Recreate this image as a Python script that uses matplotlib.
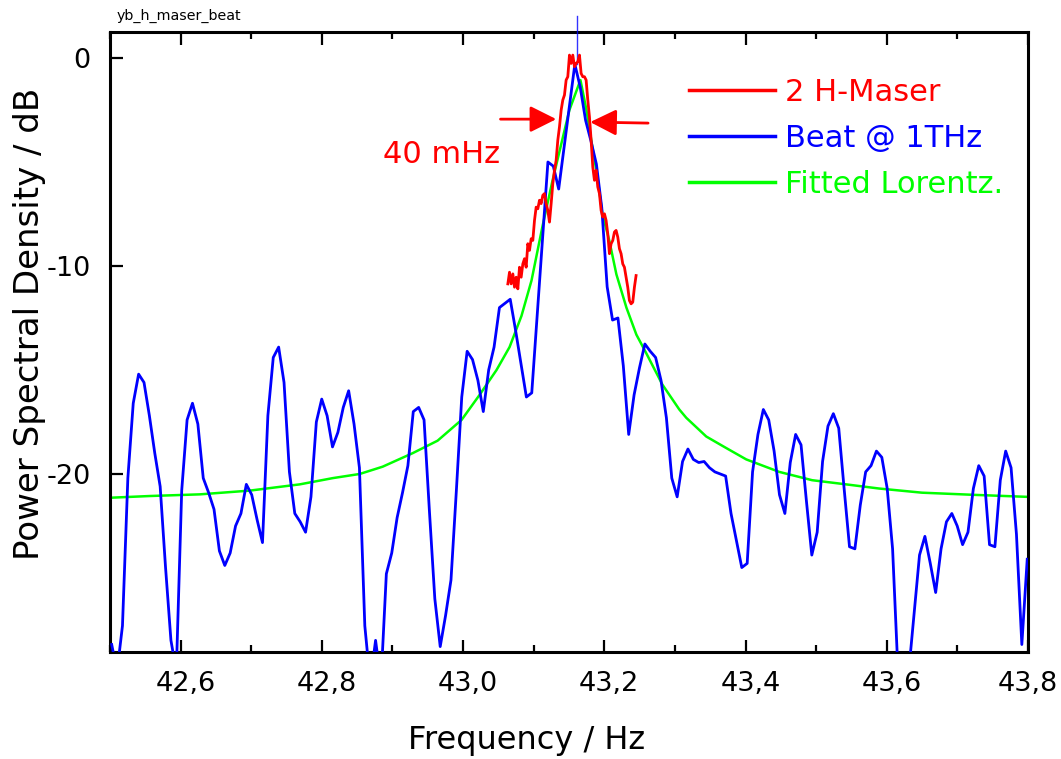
import numpy as np
import matplotlib
matplotlib.use("Agg")
import matplotlib.pyplot as plt
import matplotlib.transforms as mtransforms
from matplotlib.ticker import MultipleLocator, FuncFormatter
from matplotlib.patches import Rectangle

plt.rcParams['font.family'] = ['DejaVu Sans']
plt.rcParams['axes.unicode_minus'] = False

# ---------------- data ----------------
# Beat @ 1THz : evenly spaced spectrum bins between these two frequencies
beat_f_start = 42.5024
beat_f_stop = 43.7989
beat_db = [
    -28.2, -29.5, -27.3, -20.2, -16.6, -15.2, -15.6, -17.2, -19.0, -20.6,
    -24.5, -28.0, -29.5, -20.8, -17.4, -16.6, -17.6, -20.2, -20.9, -21.7,
    -23.7, -24.4, -23.8, -22.5, -21.9, -20.5, -21.0, -22.2, -23.3, -17.2,
    -14.4, -13.9, -15.6, -19.9, -21.9, -22.3, -22.8, -21.1, -17.5, -16.4,
    -17.2, -18.7, -18.0, -16.8, -16.0, -17.6, -19.7, -27.3, -30.0, -28.0,
    -30.0, -24.8, -23.8, -22.1, -20.9, -19.6, -17.0, -16.8, -17.4, -21.8,
    -26.0, -28.3, -26.8, -25.1, -20.8, -16.3, -14.1, -14.5, -15.5, -17.0,
    -15.0, -13.9, -12.0, -11.8, -11.6, -13.1, -14.7, -16.3, -16.1, -12.4,
    -8.7, -5.0, -5.2, -6.3, -4.3, -2.3, -0.3,
    -1.4, -3.0, -4.0, -5.1, -7.2, -11.0, -12.6, -12.5, -14.8, -18.1,
    -16.2, -14.9, -13.75, -14.1, -14.4, -15.5, -17.3, -20.2, -21.1, -19.4,
    -18.8, -19.3, -19.45, -19.4, -19.7, -19.9, -20.0, -20.1, -21.9, -23.2,
    -24.5, -24.3, -19.9, -18.1, -16.9, -17.4, -18.9, -21.0, -21.9, -19.45,
    -18.1, -18.6, -21.3, -23.9, -22.8, -19.4, -17.7, -17.1, -17.8, -20.7,
    -23.5, -23.6, -21.5, -19.9, -19.6, -18.9, -19.2, -20.7, -23.6, -29.5,
    -31.0, -29.5, -26.7, -23.9, -23.0, -24.3, -25.7, -23.6, -22.3, -21.9,
    -22.5, -23.4, -22.8, -20.7, -19.6, -20.1, -23.4, -23.5, -20.3, -18.9,
    -19.7, -22.9, -28.2, -24.1,
]
# narrow spike on top of the beat peak
spike_freq = [43.1614, 43.1614]
spike_db = [-0.3, 2.0]

# 2 H-Maser : evenly spaced between these two frequencies
maser_f_start = 43.0634
maser_f_stop = 43.2450
maser_db = [
    -10.86, -10.30, -10.86, -10.38, -11.02, -10.54, -11.10, -10.06, -10.54, -9.90,
    -9.65, -10.06, -8.93, -9.25, -8.69, -8.77, -7.81, -7.17, -7.25, -6.84,
    -7.00, -6.60, -6.52, -7.00, -7.33, -7.89, -7.00, -6.04, -5.40, -4.92,
    -3.95, -3.31, -2.51, -2.02, -1.78, -1.06, -0.90, 0.14, -0.26, 0.14,
    -0.42, -0.26, -0.18, 0.14, -0.74, -0.90, -0.90, -1.06, -2.02, -2.83,
    -3.95, -5.24, -5.88, -5.40, -6.20, -6.52, -7.33, -7.65, -7.49, -7.81,
    -8.45, -9.41, -8.93, -8.77, -8.37, -8.29, -8.61, -9.17, -9.41, -9.90,
    -10.06, -10.54, -11.02, -11.66, -11.82, -11.74, -11.02, -10.46,
]

# Fitted Lorentzian
fit_freq = [42.5024, 42.5566, 42.6273, 42.6980, 42.7687, 42.8154, 42.8536, 42.8861,
            42.9286, 42.9639, 42.9979, 43.0233, 43.0474, 43.0658, 43.0827, 43.0969,
            43.1124, 43.1266, 43.1393, 43.1506, 43.1662, 43.1747, 43.1832, 43.1902,
            43.1973, 43.2072, 43.2171, 43.2313, 43.2454, 43.2595, 43.2822, 43.3062,
            43.3161, 43.3444, 43.3699, 43.4010, 43.4477, 43.4943, 43.5424, 43.5891,
            43.6499, 43.7206, 43.7985]
fit_db = [-21.14, -21.06, -20.98, -20.8, -20.5, -20.2, -20.0, -19.65,
          -19.0, -18.4, -17.4, -16.2, -15.0, -13.9, -12.4, -10.7,
          -8.1, -5.9, -4.1, -2.5, -1.06, -2.5, -4.3, -5.7,
          -7.5, -8.8, -10.4, -12.0, -13.3, -14.2, -15.7, -16.9,
          -17.3, -18.2, -18.7, -19.3, -19.9, -20.3, -20.5, -20.7,
          -20.9, -21.0, -21.1]

series_labels = ["2 H-Maser", "Beat @ 1THz", "Fitted Lorentz."]
series_colors = ["#ff0000", "#0000ff", "#00ff00"]

x_ticks = [42.6, 42.8, 43.0, 43.2, 43.4, 43.6, 43.8]
y_ticks = [0, -10, -20]
x_limits = (42.5, 43.8)
y_limits = (-28.56, 1.25)

# linewidth annotation
width_text = "40 mHz"
width_text_pos = (42.9696, -4.63)
arrow_left = ((43.053, -2.94), (43.132, -2.94))
arrow_right = ((43.262, -3.13), (43.180, -3.08))

# ---------------- plot ----------------
beat_f = np.linspace(beat_f_start, beat_f_stop, len(beat_db))
maser_f = np.linspace(maser_f_start, maser_f_stop, len(maser_db))

fig = plt.figure(figsize=(10.61, 7.59), dpi=100)
ax = fig.add_axes([110 / 1061, 1 - 652 / 759, 918 / 1061, 620 / 759])

clip_rect = Rectangle((0, 0), 1, 1.2, transform=ax.transAxes, visible=False)

ax.plot(fit_freq, fit_db, color=series_colors[2], lw=1.8, zorder=2)
ax.plot(beat_f, beat_db, color=series_colors[1], lw=2.0, zorder=3)
spk, = ax.plot(spike_freq, spike_db, color=series_colors[1], lw=1.0, zorder=3,
               alpha=0.8)
spk.set_clip_path(clip_rect)
ax.plot(maser_f, maser_db, color=series_colors[0], lw=2.0, zorder=4)

# legend handles
handles = [plt.Line2D([], [], color=c, lw=2.5) for c in series_colors]
leg = ax.legend(handles, series_labels, loc='upper left',
                bbox_to_anchor=((689 - 110) / 918, (652 - 78) / 620),
                frameon=False, fontsize=22, handlelength=2.8,
                handletextpad=0.35, labelspacing=0.55, borderpad=0,
                borderaxespad=0, labelcolor='linecolor')

# arrows and linewidth text
for (tail, head) in (arrow_left, arrow_right):
    ax.annotate("", xy=head, xytext=tail,
                arrowprops=dict(arrowstyle="-|>,head_length=0.8,head_width=0.4",
                                color="#ff0000", lw=2.0, mutation_scale=20,
                                shrinkA=0, shrinkB=0))
ax.text(width_text_pos[0], width_text_pos[1], width_text, color="#ff0000",
        fontsize=22, ha='center', va='center')

ax.set_xlim(*x_limits)
ax.set_ylim(*y_limits)
ax.set_xticks(x_ticks)
ax.xaxis.set_minor_locator(MultipleLocator(0.1))
ax.set_yticks(y_ticks)
ax.xaxis.set_major_formatter(FuncFormatter(lambda v, p: f"{v:.1f}".replace('.', ',')))
ax.yaxis.set_major_formatter(FuncFormatter(lambda v, p: f"{v:.0f}"))

ax.tick_params(axis='both', which='both', direction='in', top=True, right=False,
               width=1.6, labelsize=19.5, colors='black')
ax.tick_params(axis='both', which='major', length=9)
ax.tick_params(axis='both', which='minor', length=5)
ax.tick_params(axis='x', which='major', pad=14)
ax.tick_params(axis='y', which='major', pad=14)
for s in ax.spines.values():
    s.set_linewidth(2.2)

# tick labels sit slightly right of their ticks (except the last one)
shift = mtransforms.ScaledTranslation(5 / 100, 0, fig.dpi_scale_trans)
for tick in ax.xaxis.get_major_ticks()[:-1]:
    tick.label1.set_transform(tick.label1.get_transform() + shift)

ax.set_xlabel("Frequency / Hz", fontsize=23)
ax.set_ylabel("Power Spectral Density / dB", fontsize=24.5)
ax.xaxis.set_label_coords((527 - 110) / 918, (652 - 725) / 620)
ax.yaxis.set_label_coords((46 - 110) / 918, (652 - 324) / 620)

fig.text(117 / 1061, 1 - 16 / 759, "yb_h_maser_beat", fontsize=10.3,
         ha='left', va='center')

fig.savefig("out.png", dpi=100)
